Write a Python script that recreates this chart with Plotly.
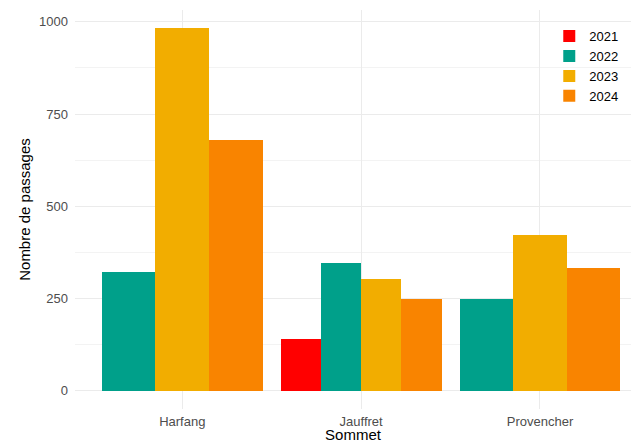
import plotly.graph_objects as go

# --- data -------------------------------------------------------------------
sommets = ["Harfang", "Jauffret", "Provencher"]
annees = ["2021", "2022", "2023", "2024"]
passages_2021 = [None, 140, None]
passages_2022 = [322, 346, 248]
passages_2023 = [983, 302, 422]
passages_2024 = [679, 248, 332]
couleurs = ["#FF0000", "#00A08A", "#F2AD00", "#F98400"]

series = [passages_2021, passages_2022, passages_2023, passages_2024]

# ggplot-style dodge: each sommet shares 0.9 between the years it actually has
DODGE = 0.9
present = [[s[i] is not None for s in series] for i in range(len(sommets))]

fig = go.Figure()
for k, (annee, vals, col) in enumerate(zip(annees, series, couleurs)):
    xs, ys, widths, offsets = [], [], [], []
    for i, v in enumerate(vals):
        if v is None:
            continue
        n = sum(present[i])
        slot = sum(present[i][:k])
        w = DODGE / n
        xs.append(sommets[i])
        ys.append(v)
        widths.append(w)
        offsets.append(-DODGE / 2 + slot * w)
    fig.add_trace(
        go.Bar(
            x=xs, y=ys, name=annee,
            width=widths, offset=offsets,
            marker=dict(color=col, line=dict(width=0)),
        )
    )

fig.update_layout(
    width=631, height=443,
    barmode="overlay",
    paper_bgcolor="white", plot_bgcolor="white",
    font=dict(family="Liberation Sans, Arial, sans-serif", size=13, color="#4D4D4D"),
    margin=dict(l=75, r=0, t=10, b=34, autoexpand=False),
    legend=dict(
        x=0.853, y=0.972, xanchor="left", yanchor="top",
        font=dict(size=13, color="black"),
        bgcolor="rgba(0,0,0,0)",
        itemwidth=30, tracegroupgap=0,
    ),
    bargap=0,
)
# the original panel runs a little past the right edge of the picture
fig.update_xaxes(
    type="category", categoryorder="array", categoryarray=sommets,
    range=[-0.6, 2.509], automargin=False,
    showgrid=True, gridcolor="#EBEBEB", gridwidth=1.1,
    showline=False, ticks="", zeroline=False,
    ticklabelstandoff=3,
    title=dict(text="Sommet", font=dict(size=15, color="black"), standoff=5),
)
fig.update_yaxes(
    range=[-49, 1032], automargin=False,
    tickvals=[0, 250, 500, 750, 1000],
    showgrid=True, gridcolor="#EBEBEB", gridwidth=1.1,
    minor=dict(tickvals=[125, 375, 625, 875], showgrid=True,
               gridcolor="#F3F3F3", gridwidth=0.8),
    showline=False, ticks="", zeroline=False,
    ticklabelstandoff=6,
    title=dict(text="Nombre de passages", font=dict(size=15, color="black"), standoff=4),
)

# the browser's default 8px body margin would push the fixed-size figure off the page
fig.write_html(
    "out.html",
    config={"displayModeBar": False},
    post_script="document.body.style.margin='0';",
)
